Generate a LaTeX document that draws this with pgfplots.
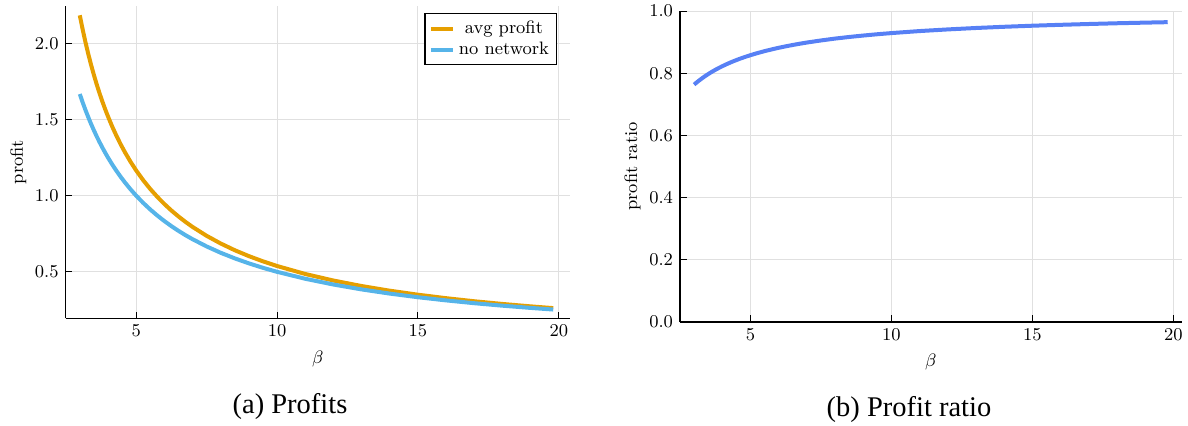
\documentclass[border=0pt]{standalone}
\usepackage{pgfplots}
\pgfplotsset{compat=1.18}
\usepackage{fontspec}
\newfontfamily\capfont{Liberation Serif}
\definecolor{corange}{RGB}{230,159,0}
\definecolor{csky}{RGB}{86,180,233}
\definecolor{cblue}{RGB}{87,128,245}
\pgfplotsset{
  plotsstyle/.style={
    scale only axis,
    anchor=south west,
    font=\fontsize{9}{11}\selectfont,
    axis lines*=left,
    axis line style={-, line width=0.6pt, black},
    tick align=inside,
    major tick length=3.3pt,
    tick style={black, line width=0.5pt},
    grid=major,
    major grid style={black!12, line width=0.5pt},
    xlabel={$\beta$},
    ylabel shift=-2.5pt,
    xtick={5,10,15,20},
    xmin=2.5,
    yticklabel style={/pgf/number format/fixed, /pgf/number format/precision=1, /pgf/number format/fixed zerofill},
    every axis plot/.append style={line width=2pt, no markers, line join=round},
  }
}
\begin{document}
\begin{tikzpicture}
\useasboundingbox (0,0) rectangle (594pt,212.5pt);
\begin{axis}[plotsstyle,
  at={(32.85pt,53.35pt)},
  width=252.2pt, height=156.2pt,
  xmax=20.4, ymin=0.195, ymax=2.245,
  ytick={0.5,1.0,1.5,2.0},
  ylabel={profit},
  legend cell align=center,
  legend style={at={(rel axis cs:0.975,0.977)}, anchor=north east, draw=black, line width=0.6pt,
    font=\fontsize{9}{11}\selectfont, inner xsep=2pt, inner ysep=1.5pt, row sep=-1pt,
    nodes={inner sep=2pt}},
  legend image code/.code={\draw[#1, line width=2pt] (0pt,0pt) -- (11pt,0pt);},
]
\addplot[corange] coordinates {
(3.0,2.1834)(3.1,2.0921)(3.2,2.0080)(3.3,1.9305)(3.4,1.8587)(3.5,1.7921)(3.6,1.7301)(3.7,1.6722)
(3.8,1.6181)(3.9,1.5674)(4.0,1.5198)(4.15,1.4535)(4.3,1.3928)(4.45,1.3369)(4.6,1.2853)(4.8,1.2225)
(5.0,1.1655)(5.25,1.1013)(5.5,1.0438)(5.75,0.9921)(6.0,0.9452)(6.25,0.9025)(6.5,0.8636)(6.75,0.8278)
(7.0,0.7949)(7.5,0.7364)(8.0,0.6859)(8.5,0.6418)(9,0.6031)(9.5,0.5688)
(10,0.5382)(11,0.4859)(12,0.4429)(13,0.4068)(14,0.3762)(15,0.3499)(16,0.3270)(17,0.3069)
(18,0.2892)(19,0.2734)(19.8,0.2619)};
\addlegendentry{avg profit}
\addplot[csky] coordinates {
(3.0,1.6667)(3.1,1.6129)(3.2,1.5625)(3.3,1.5152)(3.4,1.4706)(3.5,1.4286)(3.6,1.3889)(3.7,1.3514)
(3.8,1.3158)(3.9,1.2821)(4.0,1.25)(4.15,1.2048)(4.3,1.1628)(4.45,1.1236)(4.6,1.0870)(4.8,1.0417)
(5.0,1.0)(5.25,0.9524)(5.5,0.9091)(5.75,0.8696)(6.0,0.8333)(6.25,0.8)(6.5,0.7692)(6.75,0.7407)
(7.0,0.7143)(7.5,0.6667)(8.0,0.625)(8.5,0.5882)(9,0.5556)(9.5,0.5263)
(10,0.5)(11,0.4545)(12,0.4167)(13,0.3846)(14,0.3571)(15,0.3333)(16,0.3125)(17,0.2941)
(18,0.2778)(19,0.2632)(19.8,0.2525)};
\addlegendentry{no network}
\end{axis}
\begin{axis}[plotsstyle,
  at={(340pt,51.5pt)},
  width=250.9pt, height=155.5pt,
  xmax=20.3, ymin=0, ymax=1,
  ytick={0,0.2,0.4,0.6,0.8,1.0},
  ylabel={profit ratio},
]
\addplot[cblue] coordinates {
(3.0,0.7633)(3.1,0.7710)(3.2,0.7781)(3.3,0.7848)(3.4,0.7912)(3.5,0.7971)(3.6,0.8028)(3.7,0.8081)
(3.8,0.8132)(3.9,0.8179)(4.0,0.8225)(4.15,0.8289)(4.3,0.8349)(4.45,0.8404)(4.6,0.8457)(4.8,0.8521)
(5.0,0.858)(5.25,0.8648)(5.5,0.8709)(5.75,0.8765)(6.0,0.8817)(6.25,0.8864)(6.5,0.8908)(6.75,0.8948)
(7.0,0.8986)(7.5,0.9053)(8.0,0.9113)(8.5,0.9165)(9,0.9211)(9.5,0.9253)
(10,0.929)(11,0.9355)(12,0.9408)(13,0.9454)(14,0.9493)(15,0.9527)(16,0.9556)(17,0.9582)
(18,0.9606)(19,0.9626)(19.8,0.9641)};
\end{axis}
\node[anchor=base] at (145pt,6pt) {\capfont\fontsize{14.25}{17}\selectfont (a) Profits};
\node[anchor=base] at (454.5pt,4.5pt) {\capfont\fontsize{14.25}{17}\selectfont (b) Profit ratio};
\end{tikzpicture}
\end{document}
